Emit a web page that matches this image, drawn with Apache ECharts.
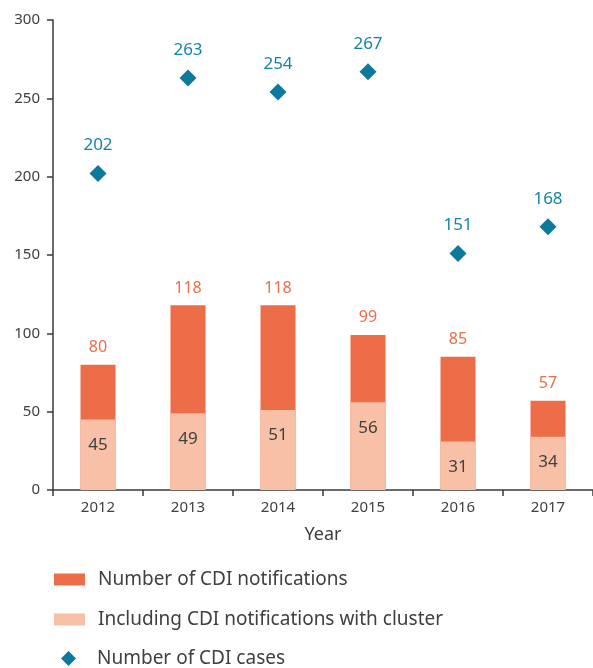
<!DOCTYPE html>
<html><head><meta charset="utf-8">
<script src="https://cdn.jsdelivr.net/npm/echarts@6/dist/echarts.min.js"></script>
<style>html,body{margin:0;padding:0;background:#fff}#c{width:593px;height:668px}</style>
</head><body><div id="c"></div>
<script>
const years = ['2012','2013','2014','2015','2016','2017'];
const notifications = [80,118,118,99,85,57];
const withCluster = [45,49,51,56,31,34];
const cases = [202,263,254,267,151,168];
const yTicks = [0,50,100,150,200,250,300];

const FONT = '"Noto Sans", "Open Sans", sans-serif';
const TXT = '#404040';
const C_DARK = '#EC6D47', C_PALE = '#F8C0A6', C_TEAL = '#0E7A9B';

const legendBase = {orient:'vertical', padding:0, itemWidth:31, itemHeight:12,
  textStyle:{fontFamily:FONT, fontSize:19, color:TXT, padding:[0,0,0,8]}};

const chart = echarts.init(document.getElementById('c'), null, {renderer:'canvas'});
chart.setOption({
  animation:false,
  textStyle:{fontFamily:FONT},
  grid:{left:53, top:20, width:542, height:470, containLabel:false},
  xAxis:{
    type:'category', data:years,
    name:'Year', nameLocation:'middle', nameGap:36,
    nameTextStyle:{fontFamily:FONT, fontSize:18, color:TXT},
    axisLine:{lineStyle:{color:'#3a3a3a', width:1.5}},
    axisTick:{show:true, length:6, lineStyle:{color:'#3a3a3a', width:1.5}},
    axisLabel:{fontFamily:FONT, fontSize:15, color:TXT, margin:10}
  },
  yAxis:{
    type:'value', min:yTicks[0], max:yTicks[yTicks.length-1], interval:50,
    axisLine:{show:true, lineStyle:{color:'#3a3a3a', width:1.5}},
    axisTick:{show:true, length:6, lineStyle:{color:'#3a3a3a', width:1.5}},
    splitLine:{show:false},
    axisLabel:{fontFamily:FONT, fontSize:15, color:TXT, margin:13, padding:[0,0,5,0]}
  },
  legend:[
    Object.assign({}, legendBase, {left:54, top:570, data:[{name:'Number of CDI notifications', icon:'rect'}]}),
    Object.assign({}, legendBase, {left:54, top:610, data:[{name:'Including CDI notifications with cluster', icon:'rect'}]}),
    Object.assign({}, legendBase, {left:61, top:649, itemWidth:15, itemHeight:15,
      textStyle:Object.assign({}, legendBase.textStyle, {padding:[0,0,0,16]}),
      data:[{name:'Number of CDI cases', icon:'diamond'}]})
  ],
  series:[
    {
      name:'Number of CDI notifications', type:'bar', data:notifications, barWidth:35,
      itemStyle:{color:C_DARK},
      label:{show:true, position:'top', distance:9, color:C_DARK, fontFamily:FONT, fontSize:16}
    },
    {
      name:'Including CDI notifications with cluster', type:'bar', data:withCluster, barWidth:35, barGap:'-100%',
      itemStyle:{color:C_PALE},
      label:{show:true, position:'insideTop', distance:17, color:TXT, fontFamily:FONT, fontSize:17}
    },
    {
      name:'Number of CDI cases', type:'scatter', data:cases, symbol:'diamond', symbolSize:17,
      itemStyle:{color:C_TEAL, opacity:1},
      label:{show:true, position:'top', distance:11, color:'#1585A6', fontFamily:FONT, fontSize:17}
    }
  ]
});
</script></body></html>
